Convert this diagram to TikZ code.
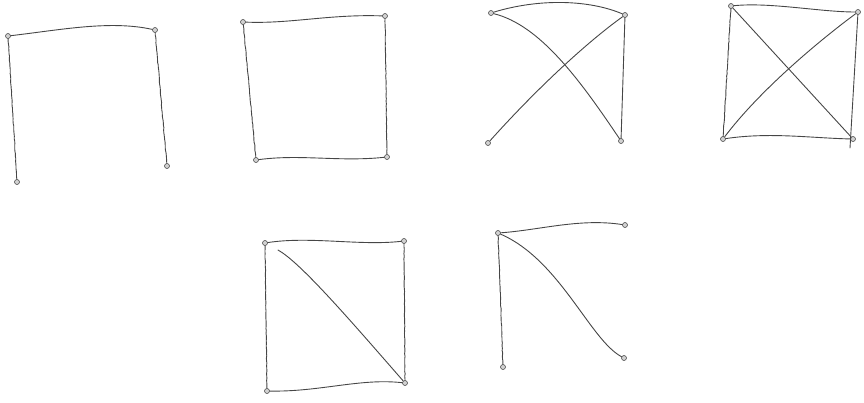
\documentclass[tikz,border=0pt]{standalone}
\usetikzlibrary{decorations.pathmorphing}
\begin{document}
\begin{tikzpicture}[x=1pt,y=-1pt,
  vtx/.style={circle,draw=gray!60!black,fill=gray!35,line width=0.6pt,minimum size=5pt,inner sep=0pt},
  edg/.style={draw=gray!55!black,line width=0.9pt,line cap=round,
    decorate,decoration={random steps,segment length=2.5pt,amplitude=0.25pt}},
  edgs/.style={draw=gray!55!black,line width=0.9pt,line cap=round}]
\useasboundingbox (0,0) rectangle (864,402);
% graph 1
\node[vtx] (a1) at (8,36) {};
\node[vtx] (a2) at (155,30) {};
\node[vtx] (a3) at (17,182) {};
\node[vtx] (a4) at (167,166) {};
\draw[edgs] (a1) .. controls (60,30) and (110,20) .. (a2);
\draw[edg] (a1) -- (a3);
\draw[edg] (a2) -- (a4);
% graph 2
\node[vtx] (b1) at (243,22) {};
\node[vtx] (b2) at (385,16) {};
\node[vtx] (b3) at (256,160) {};
\node[vtx] (b4) at (387,157) {};
\draw[edgs] (b1) .. controls (290,24) and (330,14) .. (b2);
\draw[edg] (b2) -- (b4);
\draw[edgs] (b4) .. controls (340,162) and (300,154) .. (b3);
\draw[edg] (b3) -- (b1);
% graph 3
\node[vtx] (c1) at (491,13) {};
\node[vtx] (c2) at (625,15) {};
\node[vtx] (c3) at (488,143) {};
\node[vtx] (c4) at (621,141) {};
\draw[edgs] (c1) .. controls (540,-2) and (590,0) .. (c2);
\draw[edgs] (c1) .. controls (540,25) and (580,80) .. (c4);
\draw[edgs] (c2) .. controls (590,40) and (540,85) .. (c3);
\draw[edgs] (c2) -- (c4);
% graph 4
\node[vtx] (d1) at (731,6) {};
\node[vtx] (d2) at (858,12) {};
\node[vtx] (d3) at (723,139) {};
\node[vtx] (d4) at (853,139) {};
\coordinate (d5) at (850,148);
\draw[edgs] (d1) .. controls (770,2) and (820,12) .. (d2);
\draw[edgs] (d2) -- (d5);
\draw[edgs] (d3) .. controls (770,132) and (810,138) .. (d4);
\draw[edg] (d1) -- (d3);
\draw[edgs] (d1) -- (d4);
\draw[edgs] (d2) .. controls (820,40) and (760,90) .. (d3);
% graph 5
\node[vtx] (e1) at (265,243) {};
\node[vtx] (e2) at (404,241) {};
\node[vtx] (e3) at (267,391) {};
\node[vtx] (e4) at (405,383) {};
\draw[edgs] (e1) .. controls (310,236) and (360,246) .. (e2);
\draw[edg] (e2) -- (e4);
\draw[edgs] (e4) .. controls (360,378) and (320,392) .. (e3);
\draw[edg] (e3) -- (e1);
\draw[edgs,shorten <=12pt] (e1) .. controls (300,262) and (350,320) .. (e4);
% graph 6
\node[vtx] (f1) at (498,233) {};
\node[vtx] (f2) at (625,225) {};
\node[vtx] (f3) at (503,367) {};
\node[vtx] (f4) at (624,358) {};
\draw[edgs] (f1) .. controls (540,230) and (580,218) .. (f2);
\draw[edg] (f1) -- (f3);
\draw[edgs] (f1) .. controls (560,260) and (590,340) .. (f4);
\end{tikzpicture}
\end{document}
